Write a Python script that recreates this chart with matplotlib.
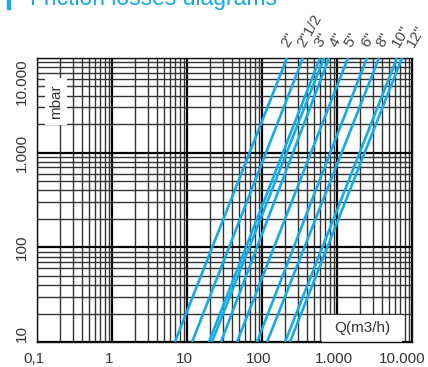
import matplotlib
matplotlib.use("Agg")
import matplotlib.pyplot as plt
import matplotlib.patches as patches
import matplotlib.ticker as ticker
import matplotlib.transforms as mtransforms
import numpy as np

plt.rcParams['font.family'] = ['Liberation Sans', 'DejaVu Sans']

# pipe sizes (one line has no label in the original)
pipe_names = ['2"', '2"1/2', '3"', '', '4"', '5"', '6"', '8"', '10"', '12"']
# flow Q (m3/h) where each line crosses 10 mbar and 10.000 mbar
q_at_10mbar = [6.9, 11.7, 19.6, 21.5, 28.4, 46.4, 85.8, 117, 203, 236]
q_at_10000mbar = [215, 352, 593, 671, 782, 1400, 2510, 3630, 6310, 7360]
p_ends = [10, 10000]

x_ticks = [0.1, 1, 10, 100, 1000, 10000]
x_labels = ['0,1', '1', '10', '100', '1.000', '10.000']
y_ticks = [10, 100, 1000, 10000]
y_labels = ['10', '100', '1.000', '10.000']

blue = '#14abe6'
txt = '#333333'
W, H = 428, 367

fig = plt.figure(figsize=(W / 100, H / 100), dpi=100)
ax = fig.add_axes([37 / W, 25 / H, 375 / W, 284 / H])

for qa, qb in zip(q_at_10mbar, q_at_10000mbar):
    ax.plot([qa, qb], p_ends, color=blue, lw=1.9, solid_capstyle='butt', zorder=3)

ax.set_xscale('log')
ax.set_yscale('log')
ax.set_xlim(0.1, 10000)
ax.set_ylim(10, 10000)

ax.xaxis.set_minor_locator(ticker.LogLocator(base=10, subs=np.arange(2, 10), numticks=20))
ax.yaxis.set_minor_locator(ticker.LogLocator(base=10, subs=np.arange(2, 10), numticks=20))
ax.xaxis.set_minor_formatter(ticker.NullFormatter())
ax.yaxis.set_minor_formatter(ticker.NullFormatter())
ax.grid(True, which='major', color='#000000', lw=1.6)
ax.grid(True, which='minor', color='#333333', lw=1.0)

ax.set_xticks(x_ticks)
ax.set_xticklabels(x_labels)
ax.set_yticks(y_ticks)
ax.set_yticklabels(y_labels, rotation=90, va='center')
ax.tick_params(which='both', length=0, labelsize=11, colors=txt)
ax.tick_params(axis='x', pad=7)
ax.tick_params(axis='y', pad=6)
ylab = ax.get_yticklabels()
ylab[0].set_va('bottom')
ylab[-1].set_va('top')
xlab = ax.get_xticklabels()
for i, lab in enumerate(xlab):
    dx = -10 if i == len(xlab) - 1 else -3
    lab.set_transform(lab.get_transform() +
                      mtransforms.ScaledTranslation(dx / 100, 0, fig.dpi_scale_trans))
for s in ax.spines.values():
    s.set_color('#111111')
    s.set_linewidth(1.0)

# pipe size labels above the top of each line
prev = -100
for name, qb in zip(pipe_names, q_at_10000mbar):
    px, py = ax.transData.transform((qb, 10000))
    if not name:
        continue
    ax_px = max(px + 4, prev + 15)
    prev = ax_px
    fig.text(ax_px / W, (H - 49) / H, name, rotation=60, rotation_mode='anchor',
             ha='left', va='bottom', fontsize=11, color='#444444')

# white boxes behind the axis names
ax.add_patch(patches.Rectangle((8 / 375, (342 - 125) / 284), 22 / 375, 47 / 284,
                               transform=ax.transAxes, facecolor='white',
                               edgecolor='none', zorder=2))
ax.text(19 / 375, (342 - 101.5) / 284, 'mbar', transform=ax.transAxes, rotation=90,
        ha='center', va='center', fontsize=11, color=txt, zorder=4)
ax.add_patch(patches.Rectangle((285 / 375, 0), 80 / 375, 27 / 284,
                               transform=ax.transAxes, facecolor='white',
                               edgecolor='none', zorder=2))
ax.text(325 / 375, 14 / 284, 'Q(m3/h)', transform=ax.transAxes, ha='center',
        va='center', fontsize=11, color=txt, zorder=4)

fig.text(30 / W, (H - 4.5) / H, 'Friction losses diagrams', fontsize=16.5,
         color=blue, ha='left', va='baseline')
fig.patches.append(patches.Rectangle((7 / W, (H - 9) / H), 2.5 / W, 9 / H,
                                     transform=fig.transFigure, color=blue))

fig.savefig('out.png', dpi=100)
